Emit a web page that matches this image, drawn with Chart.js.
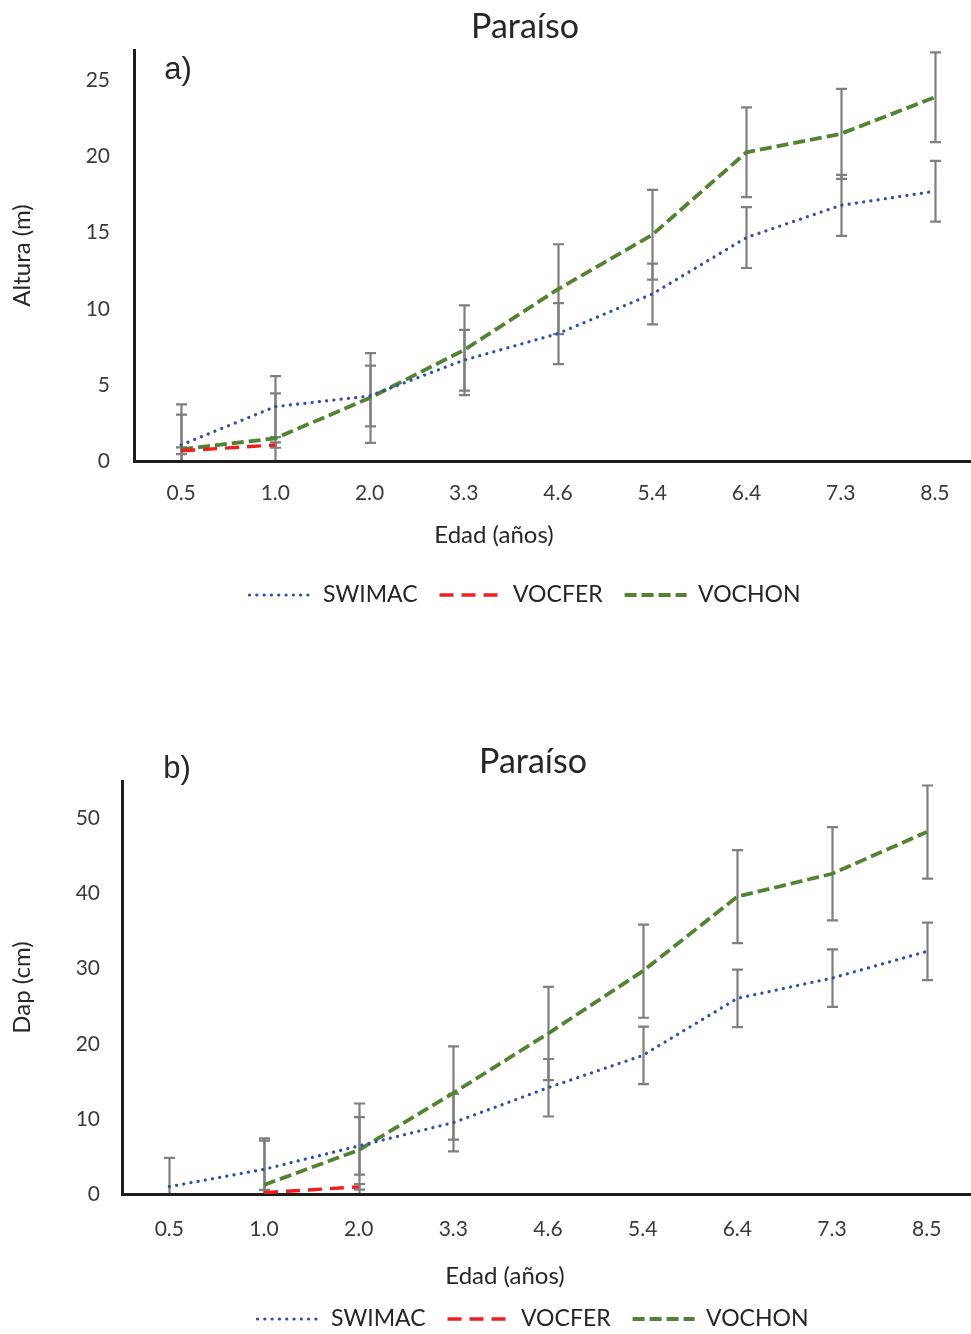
<!DOCTYPE html>
<html lang="es">
<head>
<meta charset="utf-8">
<title>Paraíso — altura y Dap por edad</title>
<script src="https://cdn.jsdelivr.net/npm/chart.js@4.4.1/dist/chart.umd.min.js"></script>
<style>
  html, body { margin: 0; padding: 0; background: #fff; overflow: hidden; width: 971px; height: 1334px; }
  .panel { position: absolute; left: 0; }
  #panelA { top: 0; }
  #panelB { top: 690px; }
</style>
</head>
<body>
<div class="panel" id="panelA"><canvas id="chartA" width="1050" height="640"></canvas></div>
<div class="panel" id="panelB"><canvas id="chartB" width="1066" height="660"></canvas></div>
<script>
// Edad de la plantación (años)
const ages = ['0.5', '1.0', '2.0', '3.3', '4.6', '5.4', '6.4', '7.3', '8.5'];
const seriesNames = ['SWIMAC', 'VOCFER', 'VOCHON'];

// a) Altura (m): medias y desviación estándar
const alturaSwimac   = [1.05, 3.57, 4.27, 6.62, 8.37, 10.97, 14.68, 16.79, 17.72];
const alturaSwimacSd = [2.0, 2.0, 2.0, 2.0, 2.0, 2.0, 2.0, 2.0, 2.0];
const alturaVocfer   = [0.67, 1.05, null, null, null, null, null, null, null];
const alturaVocferSd = [0.22, 0.18, null, null, null, null, null, null, null];
const alturaVochon   = [0.77, 1.49, 4.14, 7.28, 11.29, 14.86, 20.28, 21.49, 23.9];
const alturaVochonSd = [2.95, 2.95, 2.95, 2.95, 2.95, 2.95, 2.95, 2.95, 2.95];
const alturaTicks    = [0, 5, 10, 15, 20, 25];

// b) Dap (cm): medias y desviación estándar
const dapSwimac   = [0.98, 3.28, 6.4, 9.5, 14.15, 18.45, 26.05, 28.75, 32.3];
const dapSwimacSd = [3.83, 3.83, 3.83, 3.83, 3.83, 3.83, 3.83, 3.83, 3.83];
const dapVocfer   = [null, 0.18, 0.95, null, null, null, null, null, null];
const dapVocferSd = [null, 0.37, 0.38, null, null, null, null, null, null];
const dapVochon   = [null, 1.2, 5.85, 13.45, 21.37, 29.67, 39.6, 42.65, 48.2];
const dapVochonSd = [null, 6.2, 6.2, 6.2, 6.2, 6.2, 6.2, 6.2, 6.2];
const dapTicks    = [0, 10, 20, 30, 40, 50];

const FONT = 'Lato, "Open Sans", sans-serif';
const TEXT = '#262626';

// Vertical error bars (mean ± sd), clipped to the plot area
const errorBars = {
  id: 'errorBars',
  beforeDatasetsDraw(chart, args, opts) {
    const { ctx, chartArea: a, scales: { x, y } } = chart;
    const half = opts.capHalf;
    ctx.save();
    ctx.beginPath();
    ctx.rect(a.left, a.top - 2, a.right - a.left, a.bottom - a.top + 1);
    ctx.clip();
    ctx.strokeStyle = opts.color;
    ctx.lineWidth = opts.width;
    ctx.lineCap = 'butt';
    chart.data.datasets.forEach(ds => {
      if (!ds.sd) return;
      ds.data.forEach((v, i) => {
        const e = ds.sd[i];
        if (v == null || e == null) return;
        const px = Math.round(x.getPixelForValue(i)) + 0.5;
        const top = y.getPixelForValue(v + e);
        const bot = y.getPixelForValue(v - e);
        ctx.beginPath();
        ctx.moveTo(px, top); ctx.lineTo(px, bot);
        ctx.moveTo(px - half, top); ctx.lineTo(px + half, top);
        ctx.moveTo(px - half, bot); ctx.lineTo(px + half, bot);
        ctx.stroke();
      });
    });
    ctx.restore();
  }
};

// Panel letter and x-axis caption
const panelText = {
  id: 'panelText',
  afterDraw(chart, args, opts) {
    const ctx = chart.ctx;
    ctx.save();
    (opts.items || []).forEach(t => {
      ctx.font = t.font;
      ctx.fillStyle = t.color || TEXT;
      ctx.textAlign = 'center';
      ctx.textBaseline = 'middle';
      ctx.fillText(t.text, t.x, t.y);
    });
    ctx.restore();
  }
};

function buildDatasets(sw, swSd, vf, vfSd, vc, vcSd) {
  return [
    { label: seriesNames[0], data: sw, sd: swSd, borderColor: '#2F4EA6', backgroundColor: '#2F4EA6',
      borderWidth: 3.2, borderDash: [0.1, 7.2], borderCapStyle: 'round' },
    { label: seriesNames[1], data: vf, sd: vfSd, borderColor: '#F01E1E', backgroundColor: '#F01E1E',
      borderWidth: 3.4, borderDash: [14, 8], borderCapStyle: 'butt' },
    { label: seriesNames[2], data: vc, sd: vcSd, borderColor: '#548235', backgroundColor: '#548235',
      borderWidth: 3.8, borderDash: [12, 5], borderCapStyle: 'butt' }
  ].map(d => Object.assign(d, { fill: false, tension: 0, pointRadius: 0, pointHoverRadius: 0, spanGaps: false, yAxisID: 'y' }));
}

function makeChart(id, p) {
  return new Chart(document.getElementById(id), {
    type: 'line',
    data: { labels: ages, datasets: p.datasets },
    plugins: [errorBars, panelText],
    options: {
      responsive: false,
      animation: false,
      devicePixelRatio: 1,
      layout: { padding: { left: 0, right: 0, top: 0, bottom: p.bottomPad } },
      scales: {
        x: {
          type: 'category',
          offset: true,
          grid: { display: false, drawTicks: false },
          border: { display: true, color: '#1e1e1e', width: 3 },
          ticks: { font: { family: FONT, size: 21 }, color: '#3a3a3a', padding: p.xTickPad, maxRotation: 0, autoSkip: false },
          afterFit: s => { s.height = p.xAxisHeight; }
        },
        y: {
          position: 'left',
          min: 0,
          max: p.yMax,
          grid: { display: false, drawTicks: false },
          border: { display: true, color: '#1e1e1e', width: 3 },
          afterBuildTicks: s => { s.ticks = p.yTicks.map(v => ({ value: v })); },
          ticks: { font: { family: FONT, size: 21 }, color: '#3a3a3a', padding: p.yTickPad },
          title: { display: true, text: p.yTitle, font: { family: FONT, size: 24 }, color: TEXT, padding: { top: 7.6, bottom: 0 } },
          afterFit: s => { s.width = p.yAxisWidth; }
        },
        // blank margin on the right of the plot area
        margin: {
          position: 'right',
          grid: { display: false, drawTicks: false },
          border: { display: false },
          ticks: { display: false },
          afterFit: s => { s.width = p.rightMargin; }
        }
      },
      plugins: {
        title: {
          display: true, text: 'Paraíso', color: TEXT,
          font: { family: FONT, size: 34, weight: 'normal', lineHeight: 1.1 },
          padding: p.titlePad
        },
        legend: {
          position: 'bottom',
          labels: {
            usePointStyle: true,
            pointStyle: 'line',
            pointStyleWidth: 62,
            padding: 22,
            color: TEXT,
            font: { family: FONT, size: 23 },
            generateLabels: chart => chart.data.datasets.map((ds, i) => ({
              text: ds.label,
              strokeStyle: ds.borderColor,
              fillStyle: ds.borderColor,
              lineWidth: ds.borderWidth,
              lineDash: ds.borderDash,
              lineCap: ds.borderCapStyle,
              pointStyle: 'line',
              fontColor: TEXT,
              hidden: false,
              datasetIndex: i
            }))
          }
        },
        tooltip: { enabled: false },
        errorBars: { color: '#7f7f7f', width: 2.2, capHalf: 5.5 },
        panelText: { items: p.texts }
      }
    }
  });
}

makeChart('chartA', {
  datasets: buildDatasets(alturaSwimac, alturaSwimacSd, alturaVocfer, alturaVocferSd, alturaVochon, alturaVochonSd),
  yTitle: 'Altura (m)', yMax: 27, yTicks: alturaTicks,
  yAxisWidth: 134, yTickPad: 24, xTickPad: 20, xAxisHeight: 100.5,
  rightMargin: 68, bottomPad: 23.5,
  titlePad: { top: 8.3, bottom: 4.3 },
  texts: [
    { text: 'a)', x: 178, y: 70, font: '31px "Liberation Sans", Arial, sans-serif' },
    { text: 'Edad (años)', x: 494, y: 535, font: '24px ' + FONT }
  ]
});

makeChart('chartB', {
  datasets: buildDatasets(dapSwimac, dapSwimacSd, dapVocfer, dapVocferSd, dapVochon, dapVochonSd),
  yTitle: 'Dap (cm)', yMax: 55, yTicks: dapTicks,
  yAxisWidth: 122, yTickPad: 22, xTickPad: 23, xAxisHeight: 91.5,
  rightMargin: 92, bottomPad: 9.5,
  titlePad: { top: 53.3, bottom: 0.3 },
  texts: [
    { text: 'b)', x: 177, y: 79, font: '31px "Liberation Sans", Arial, sans-serif' },
    { text: 'Edad (años)', x: 505, y: 586, font: '24px ' + FONT }
  ]
});
</script>
</body>
</html>
